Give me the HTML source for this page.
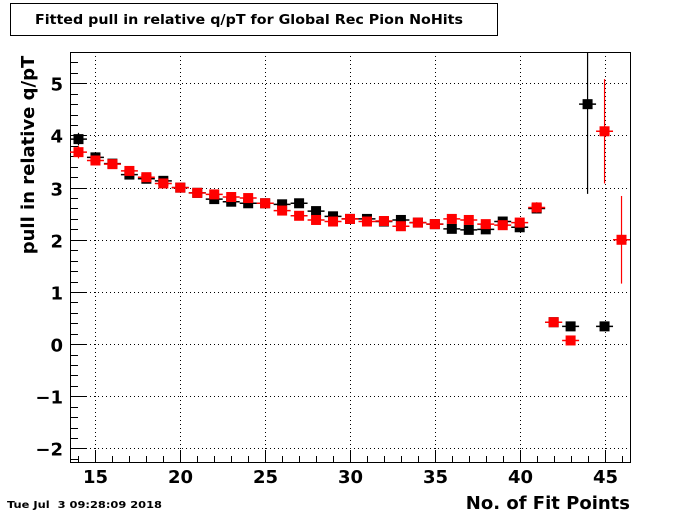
<!DOCTYPE html>
<html><head><meta charset="utf-8"><style>
html,body{margin:0;padding:0;background:#fff;}
svg{display:block;font-family:"DejaVu Sans","Liberation Sans",sans-serif;}
</style></head><body>
<svg id="chart" width="700" height="514" viewBox="0 0 700 514">
<defs><clipPath id="pc"><rect x="70" y="52" width="561" height="411"/></clipPath></defs>
<rect x="0" y="0" width="700" height="514" fill="#fff"/>
<g>
<rect x="10.5" y="3.5" width="487" height="32" fill="#fff" stroke="#000" stroke-width="1"/>
<text x="249" y="24" text-anchor="middle" font-size="13.5" font-weight="bold" textLength="428" lengthAdjust="spacingAndGlyphs">Fitted pull in relative q/pT for Global Rec Pion NoHits</text>
</g>
<g id="grid"></g>
<rect x="70.5" y="52.5" width="560" height="410" fill="none" stroke="#000"/>
<g id="axes"></g>
<g id="marks" clip-path="url(#pc)"></g>
<text transform="translate(34,155) rotate(-90)" text-anchor="middle" font-size="18" font-weight="bold">pull in relative q/pT</text>
<text x="630" y="509" text-anchor="end" font-size="18" font-weight="bold">No. of Fit Points</text>
<text x="7" y="508" font-size="10" font-weight="bold" textLength="155" lengthAdjust="spacingAndGlyphs" xml:space="preserve">Tue Jul  3 09:28:09 2018</text>
</svg>
<script>
const xTicks=[15,20,25,30,35,40,45];
const yTicks=[-2,-1,0,1,2,3,4,5];
const blackX=[14,15,16,17,18,19,20,21,22,23,24,25,26,27,28,29,30,31,32,33,34,35,36,37,38,39,40,41,42,43,44,45];
const blackY=[3.93,3.58,3.46,3.25,3.17,3.13,3.0,2.9,2.78,2.73,2.7,2.7,2.68,2.7,2.55,2.45,2.4,2.4,2.35,2.38,2.33,2.3,2.21,2.19,2.2,2.35,2.24,2.6,0.42,0.34,4.6,0.34];
const blackErr=[0.12,0.06,0.05,0.05,0.05,0.05,0.05,0.05,0.05,0.05,0.05,0.05,0.05,0.05,0.05,0.05,0.05,0.05,0.05,0.05,0.05,0.05,0.05,0.05,0.05,0.05,0.05,0.05,0.05,0.05,1.72,0.05];
const redX=[14,15,16,17,18,19,20,21,22,23,24,25,26,27,28,29,30,31,32,33,34,35,36,37,38,39,40,41,42,43,45,46];
const redY=[3.68,3.52,3.45,3.32,3.2,3.08,3.0,2.9,2.87,2.82,2.8,2.7,2.56,2.46,2.38,2.35,2.4,2.35,2.36,2.26,2.33,2.3,2.4,2.38,2.3,2.28,2.33,2.62,0.42,0.07,4.08,2.0];
const redErr=[0.12,0.06,0.05,0.05,0.05,0.05,0.05,0.05,0.05,0.05,0.05,0.05,0.05,0.05,0.05,0.05,0.05,0.05,0.05,0.05,0.05,0.05,0.05,0.05,0.05,0.05,0.05,0.1,0.05,0.05,1.0,0.84];
const X0=70,X1=630,Y0=52,Y1=462,xmin=13.5,xmax=46.5,ymin=-2.26,ymax=5.6;
function sx(v){return X0+(v-xmin)/(xmax-xmin)*(X1-X0);}
function sy(v){return Y1-(v-ymin)/(ymax-ymin)*(Y1-Y0);}
const NS="http://www.w3.org/2000/svg";
function mk(t,a,p){const e=document.createElementNS(NS,t);for(const k in a)e.setAttribute(k,a[k]);p.appendChild(e);return e;}
const grid=document.getElementById('grid'),axes=document.getElementById('axes'),marks=document.getElementById('marks');
xTicks.forEach(t=>{const x=Math.round(sx(t))+0.5;
 const g=mk('line',{x1:x,x2:x,y1:Y0,y2:Y1,stroke:'#000','stroke-dasharray':'1,3'},grid);
 
 
 mk('line',{x1:x,x2:x,y1:Y1,y2:Y1-12,stroke:'#000'},axes);
 const l=mk('text',{x:x,y:Y1+21,'text-anchor':'middle','font-size':'18','font-weight':'bold'},axes);l.textContent=t;
 
 
});
for(let v=14;v<=46;v++){const x=Math.round(sx(v))+0.5;mk('line',{x1:x,x2:x,y1:Y1,y2:Y1-6,stroke:'#000'},axes);}
yTicks.forEach(t=>{const y=Math.round(sy(t))+0.5;
 const g=mk('line',{x1:X0,x2:X1,y1:y,y2:y,stroke:'#000','stroke-dasharray':'1,3'},grid);
 
 
 mk('line',{x1:X0,x2:X0+16,y1:y,y2:y,stroke:'#000'},axes);
 const l=mk('text',{x:X0-7,y:y+7,'text-anchor':'end','font-size':'18','font-weight':'bold'},axes);l.textContent=(t<0?'\u2212'+(-t):t);
 
 
});
for(let v=-2.2;v<=5.6;v+=0.2){const y=Math.round(sy(v))+0.5;if(y>=Y0&&y<=Y1)mk('line',{x1:X0,x2:X0+8,y1:y,y2:y,stroke:'#000'},axes);}
function series(xs,ys,es,col,name){xs.forEach((xv,i)=>{
 const g=mk('g',{},marks);
 
 
 const cx=sx(xv),cy=sy(ys[i]),hw=(sx(1)-sx(0))/2;
 mk('line',{x1:cx-hw,x2:cx+hw,y1:cy,y2:cy,stroke:col,'stroke-width':1.5},g);
 mk('line',{x1:cx,x2:cx,y1:sy(ys[i]-es[i]),y2:sy(ys[i]+es[i]),stroke:col,'stroke-width':1.2},g);
 mk('rect',{x:cx-5,y:cy-5,width:10,height:10,fill:col},g);
});}
series(blackX,blackY,blackErr,'#000','black-series');
series(redX,redY,redErr,'#f00','red-series');
</script>
</body></html>
